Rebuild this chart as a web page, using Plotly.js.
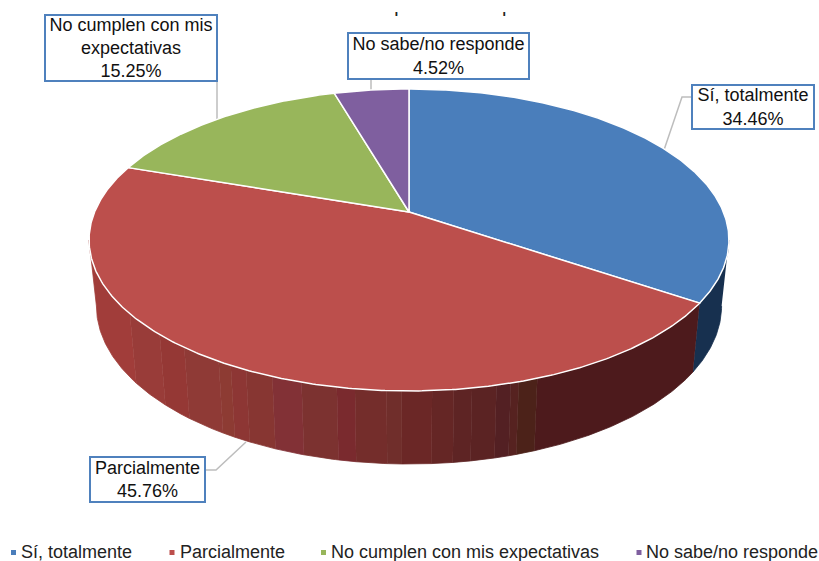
<!DOCTYPE html>
<html><head><meta charset="utf-8">
<script src="https://cdn.plot.ly/plotly-3.0.1.min.js"></script>
<style>html,body{margin:0;padding:0;background:#fff;overflow:hidden}</style>
</head><body><div id="chart" style="width:819px;height:561px"></div>
<script>
const categories = ['Sí, totalmente','Parcialmente','No cumplen con mis expectativas','No sabe/no responde'];
const values = [34.46,45.76,15.25,4.52];
const topColors = ['#4a7ebb','#bc4f4c','#98b65b','#7f5f9f'];
const labelLines = ['Sí, totalmente','Parcialmente','No cumplen con mis<br>expectativas','No sabe/no responde'];
const labelBoxes = [[691,84,815,130],[89,456,206,503],[44,14,218,82],[347,32,530,80]];
const leaders = ['M664,150 L682,97 L691,97','M246,442 L216,470 L206,470','M217,82 L217,119','M371,80 L371,90'];
const legendSwatchX = [13.5,172,323.5,639];
const legendTextX = [21,180,331,646];
const hiddenTitle = 'con la calidad que usted esperaba';
const bandEdges = [60,130,160,185,220,232,247,273,302,337,355,388,403,433,455,473,498,512,520,538,760];
const bandColors = ['#a13d3a','#993c39','#953835','#8f3a36','#8d3b33','#8d3634','#873632','#823136','#7c3230','#7a2a2e','#742d2b','#702e2b','#6b2726','#652625','#5e2424','#5b2323','#532023','#562220','#4c2219','#4d1a1c'];
const blueWall = '#17304f';

// perspective disc geometry (plot units = pixels)
const CX=409, K=0.1854, BX=314.4, AY=145.8, TOPY=212, BOTY=276.6, SX=0.977, SY=1.047;
const rad=d=>d*Math.PI/180;
const RIM=Math.acos(-K)*180/Math.PI;   // angle where the disc's outline is widest
function topPt(t){const u=Math.sin(rad(t)),v=Math.cos(rad(t)),d=1+K*v;return [CX+BX*u/d,TOPY-AY*v/d];}
function botPt(t){const u=Math.sin(rad(t)),v=Math.cos(rad(t)),d=1+K*v;return [CX+SX*BX*u/d,BOTY-SY*AY*v/d];}
function sweep(t0,t1){const a=[];for(let t=t0;t<t1;t+=0.5)a.push(t);a.push(t1);return a;}

const total=values.reduce((a,b)=>a+b,0);
const bounds=[0]; values.forEach((v,i)=>bounds.push(bounds[i]+v/total*360));

const traces=[];
function wall(t0,t1,color){
  const ts=sweep(t0,t1),xs=[],ys=[];
  ts.forEach(t=>{const p=topPt(t);xs.push(p[0]);ys.push(p[1]);});
  ts.slice().reverse().forEach(t=>{const p=botPt(t);xs.push(p[0]);ys.push(p[1]);});
  traces.push({type:'scatter',mode:'lines',x:xs,y:ys,fill:'toself',fillcolor:color,line:{color:color,width:0.8},showlegend:false,hoverinfo:'skip'});
}
wall(RIM,bounds[1],blueWall);
// red wall, split in shaded bands along its visible run
let prev=bounds[1];
const lastAngle=360-RIM;
for(let b=bandColors.length-1;b>=0;b--){
  let t=prev;
  while(t<lastAngle && topPt(t)[0]>bandEdges[b]) t+=0.25;
  t=Math.min(t,lastAngle);
  if(t>prev){wall(prev,t,bandColors[b]);prev=t;}
}
// top faces
values.forEach((v,i)=>{
  const xs=[CX],ys=[TOPY];
  sweep(bounds[i],bounds[i+1]).forEach(t=>{const p=topPt(t);xs.push(p[0]);ys.push(p[1]);});
  xs.push(CX);ys.push(TOPY);
  traces.push({type:'scatter',mode:'lines',x:xs,y:ys,fill:'toself',fillcolor:topColors[i],line:{color:'#ffffff',width:1.5},showlegend:false,name:categories[i],hoverinfo:'name'});
});
// clipped remnant of the original heading
traces.push({type:'scatter',mode:'text',x:[412],y:[7],text:[hiddenTitle],textposition:'middle center',textfont:{family:'Liberation Sans',size:20,color:'#222'},showlegend:false,hoverinfo:'skip'});
// legend row
categories.forEach((c,i)=>{
  traces.push({type:'scatter',mode:'markers',x:[legendSwatchX[i]],y:[552.5],name:c,marker:{symbol:'square',size:5,color:topColors[i]},showlegend:false,hoverinfo:'skip',cliponaxis:false});
  traces.push({type:'scatter',mode:'text',x:[legendTextX[i]],y:[553],text:[c],textposition:'middle right',name:c,textfont:{family:'Liberation Sans',size:18,color:'#222'},showlegend:false,hoverinfo:'skip',cliponaxis:false});
});

const annotations=values.map((v,i)=>{
  const b=labelBoxes[i];
  return {xref:'x',yref:'y',x:(b[0]+b[2])/2,y:(b[1]+b[3])/2,xanchor:'center',yanchor:'middle',showarrow:false,
    text:labelLines[i]+'<br>'+v.toFixed(2)+'%',width:b[2]-b[0]-4,height:b[3]-b[1]-4,borderpad:0,borderwidth:2,bordercolor:'#4f81bd',bgcolor:'#fff',
    font:{family:'Liberation Sans',size:18,color:'#111'},align:'center',valign:'middle'};
});
const shapes=leaders.map(p=>({type:'path',path:p,layer:'below',line:{color:'#bdbdbd',width:1.5}}));
shapes.push({type:'rect',layer:'above',x0:0,x1:819,y0:-10,y1:12,fillcolor:'#fff',line:{width:0}});

Plotly.newPlot('chart',traces,{
  width:819,height:561,autosize:false,margin:{l:0,r:0,t:0,b:0,pad:0},paper_bgcolor:'#fff',plot_bgcolor:'#fff',
  xaxis:{range:[0,819],visible:false,fixedrange:true},
  yaxis:{range:[561,0],visible:false,fixedrange:true},
  annotations,shapes,showlegend:false,hovermode:'closest'
},{displayModeBar:false});
</script></body></html>
